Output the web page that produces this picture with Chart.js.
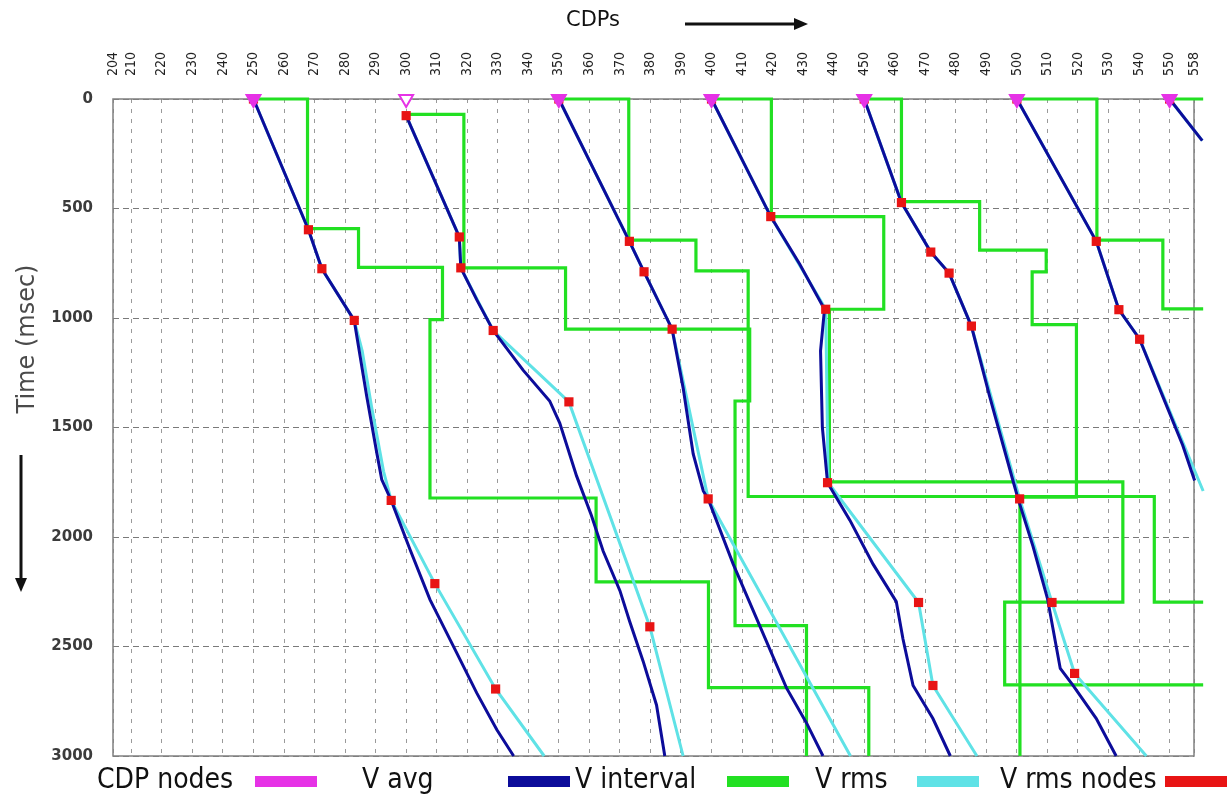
<!DOCTYPE html>
<html>
<head>
<meta charset="utf-8">
<script src="https://cdn.jsdelivr.net/npm/chart.js@4.4.1/dist/chart.umd.min.js"></script>
<style>
  html, body { margin: 0; padding: 0; background: #ffffff; }
  #wrap { width: 1228px; height: 798px; position: relative; }
</style>
</head>
<body>
<div id="wrap"><canvas id="chart" width="1228" height="798"></canvas></div>
<script>
// ---- axis ticks ----
const cdpTicks = [204, 210, 220, 230, 240, 250, 260, 270, 280, 290, 300, 310, 320, 330, 340,
  350, 360, 370, 380, 390, 400, 410, 420, 430, 440, 450, 460, 470, 480, 490, 500, 510, 520,
  530, 540, 550, 558];
const timeTicks = [0, 500, 1000, 1500, 2000, 2500, 3000];

// ---- CDP nodes (velocity analysis locations) ----
const cdpNodes = [250, 300, 350, 400, 450, 500, 550];
const openNodes = [300];

// ---- per-node curves: [CDP position, time (msec)] ----
const vAvg250 = [[250,0],[268,597],[272.4,775],[283,1011],[284.4,1130],[287.1,1358],[290.4,1617],[292,1738],[295.1,1833],[301.3,2058],[307.8,2286],[316.6,2530],[323.1,2712],[329.7,2880],[335.2,3000]];
const vRms250 = [[250,0],[268,597],[272.4,775],[283,1011],[285.6,1150],[288.6,1400],[292.6,1700],[295.1,1833],[309.4,2213],[329.3,2694],[345.2,3000]];
const rmsNodes250 = [[250,0],[268,597],[272.4,775],[283,1011],[295.1,1833],[309.4,2213],[329.3,2694]];
const vInt250 = [[250,0],[267.7,0],[267.7,592],[284.4,592],[284.4,769],[311.9,769],[311.9,1007],[307.8,1007],[307.8,1822],[362.2,1822],[362.2,2205],[399,2205],[399,2688],[451.5,2688],[451.5,3000]];

const vAvg300 = [[300,76],[317.4,630],[317.9,771],[323.1,916],[328.5,1057],[338.3,1238],[347,1379],[350.3,1480],[355.8,1721],[360.7,1903],[364.5,2064],[370,2245],[373.2,2386],[377.6,2567],[382,2768],[384.7,3000]];
const vRms300 = [[300,76],[317.4,630],[317.9,771],[328.5,1057],[353.3,1383],[379.8,2410],[390.7,3000]];
const rmsNodes300 = [[300,76],[317.4,630],[317.9,771],[328.5,1057],[353.3,1383],[379.8,2410]];
const vInt300 = [[300,70],[318.9,70],[318.9,771],[352.2,771],[352.2,1051],[412.5,1051],[412.5,1379],[407.7,1379],[407.7,2405],[431.1,2405],[431.1,3000]];

const vAvg350 = [[350,0],[373.1,650],[377.9,789],[387.1,1051],[390.7,1319],[394,1621],[397.3,1790],[398.9,1826],[407.1,2124],[415.8,2406],[424.5,2688],[431.1,2849],[436.5,3000]];
const vRms350 = [[350,0],[373.1,650],[377.9,789],[387.1,1051],[398.9,1826],[445.5,3000]];
const rmsNodes350 = [[350,0],[373.1,650],[377.9,789],[387.1,1051],[398.9,1826]];
const vInt350 = [[350,0],[372.9,0],[372.9,644],[394.9,644],[394.9,785],[412,785],[412,1815],[545,1815],[545,2297],[561,2297]];

const vAvg400 = [[400,0],[419.4,537],[428.9,755],[437,960],[435.7,1150],[436.3,1500],[438,1752],[445.3,1923],[452.9,2124],[460.5,2295],[462.7,2466],[466,2678],[472.5,2829],[478.2,3000]];
const vRms400 = [[400,0],[419.4,537],[437.4,960],[438.2,1752],[467.8,2299],[472.5,2678],[486.9,3000]];
const rmsNodes400 = [[400,0],[419.4,537],[437.4,960],[438,1752],[467.8,2299],[472.5,2678]];
const vInt400 = [[400,0],[419.6,0],[419.6,537],[456.4,537],[456.4,960],[438.6,960],[438.6,1748],[534.7,1748],[534.7,2297],[496,2297],[496,2675],[561,2675]];

const vAvg450 = [[450,0],[462.2,473],[471.8,699],[477.8,795],[485.1,1037],[491.1,1359],[495.5,1581],[498.7,1742],[500.4,1826],[505.3,2044],[510,2280],[514.2,2600],[518.5,2680],[526,2829],[532.5,3000]];
const vRms450 = [[450,0],[462.2,473],[471.8,699],[477.8,795],[485.1,1037],[500.9,1826],[511.5,2299],[518.9,2623],[542.4,3000]];
const rmsNodes450 = [[450,0],[462.2,473],[471.8,699],[477.8,795],[485.1,1037],[500.9,1826],[511.5,2299],[518.9,2623]];
const vInt450 = [[450,0],[462.2,0],[462.2,469],[487.8,469],[487.8,690],[509.6,690],[509.6,789],[505,789],[505,1030],[519.5,1030],[519.5,1818],[501,1818],[501,3000]];

const vAvg500 = [[500,0],[526,650],[533.4,962],[540.2,1097],[547.8,1359],[554.3,1581],[558.2,1742],[559.6,1850],[560.3,2110]];
const vRms500 = [[500,0],[526,650],[533.4,962],[540.2,1097],[561,1790]];
const rmsNodes500 = [[500,0],[526,650],[533.4,962],[540.2,1097]];
const vInt500 = [[500,0],[526.2,0],[526.2,644],[547.8,644],[547.8,958],[561,958]];

const vAvg550 = [[550,0],[560.7,190]];
const vRms550 = [[550,0],[560.7,190]];
const rmsNodes550 = [[550,0]];
const vInt550 = [[550,0],[561,0]];

// ---- legend texts ----
const legendLabels = ['CDP nodes', 'V avg', 'V interval', 'V rms', 'V rms nodes'];

// ---- styling ----
const COLORS = {
  node: '#e632e6',
  avg: '#0c0c9a',
  interval: '#22e022',
  rms: '#5fe2e6',
  rmsNode: '#e81414'
};
const legendColors = [COLORS.node, COLORS.avg, COLORS.interval, COLORS.rms, COLORS.rmsNode];
const legendTextX = [97, 362, 575, 815, 1000];
const legendSwatchX = [255, 508, 727, 917, 1165];

const toXY = arr => arr.map(([x, y]) => ({ x, y }));

const panels = [
  [vAvg250, vRms250, rmsNodes250, vInt250],
  [vAvg300, vRms300, rmsNodes300, vInt300],
  [vAvg350, vRms350, rmsNodes350, vInt350],
  [vAvg400, vRms400, rmsNodes400, vInt400],
  [vAvg450, vRms450, rmsNodes450, vInt450],
  [vAvg500, vRms500, rmsNodes500, vInt500],
  [vAvg550, vRms550, rmsNodes550, vInt550]
];

const datasets = [];
datasets.push({
  label: 'CDP nodes',
  data: cdpNodes.map(c => ({ x: c, y: 0 })),
  showLine: false,
  pointStyle: 'triangle',
  pointRotation: 180,
  pointRadius: 8,
  pointBorderWidth: 2,
  pointBorderColor: COLORS.node,
  pointBackgroundColor: cdpNodes.map(c => openNodes.includes(c) ? '#ffffff' : COLORS.node),
  order: 0,
  clip: false
});
panels.forEach(([avg, rms, nodes, intv]) => {
  datasets.push({ label: 'V rms nodes', data: toXY(nodes), showLine: false, pointStyle: 'rect',
    pointRadius: 6.5, pointBorderWidth: 0, pointBackgroundColor: COLORS.rmsNode, order: 1, clip: false });
  datasets.push({ label: 'V avg', data: toXY(avg), borderColor: COLORS.avg, borderWidth: 3,
    pointRadius: 0, tension: 0, order: 2, clip: false });
  datasets.push({ label: 'V rms', data: toXY(rms), borderColor: COLORS.rms, borderWidth: 3,
    pointRadius: 0, tension: 0, order: 3, clip: false });
  datasets.push({ label: 'V interval', data: toXY(intv), borderColor: COLORS.interval, borderWidth: 3.2,
    pointRadius: 0, tension: 0, order: 4, clip: false, borderJoinStyle: 'miter' });
});

// frame, rotated CDP tick labels, axis titles, arrows and the legend row
const decorations = {
  id: 'decorations',
  beforeDatasetsDraw(chart) {
    const { ctx, chartArea: a } = chart;
    ctx.save();
    ctx.strokeStyle = '#808080';
    ctx.lineWidth = 1.5;
    ctx.strokeRect(a.left, a.top, a.right - a.left, a.bottom - a.top);
    ctx.restore();
  },
  afterDraw(chart) {
    const { ctx } = chart;
    const xs = chart.scales.x;
    ctx.save();

    // CDP tick labels, read bottom-to-top above the frame
    ctx.fillStyle = '#222';
    ctx.font = '14px "DejaVu Sans Condensed"';
    ctx.textAlign = 'left';
    ctx.textBaseline = 'middle';
    xs.ticks.forEach(t => {
      const px = xs.getPixelForValue(t.value);
      ctx.save();
      ctx.translate(px, 76);
      ctx.rotate(-Math.PI / 2);
      ctx.fillText(String(t.value), 0, 0);
      ctx.restore();
    });

    ctx.fillStyle = '#111';
    ctx.strokeStyle = '#111';

    // top title with arrow
    ctx.font = '21px "DejaVu Sans"';
    ctx.textAlign = 'center';
    ctx.textBaseline = 'middle';
    ctx.fillText('CDPs', 593, 21);
    ctx.lineWidth = 3;
    ctx.beginPath(); ctx.moveTo(685, 24); ctx.lineTo(798, 24); ctx.stroke();
    ctx.beginPath(); ctx.moveTo(808, 24); ctx.lineTo(794, 18); ctx.lineTo(794, 30); ctx.closePath(); ctx.fill();

    // left title with arrow
    ctx.save();
    ctx.translate(28, 339);
    ctx.rotate(-Math.PI / 2);
    ctx.font = '24px "DejaVu Sans"';
    ctx.fillStyle = '#4a4a4a';
    ctx.fillText('Time (msec)', 0, 0);
    ctx.restore();
    ctx.beginPath(); ctx.moveTo(21, 455); ctx.lineTo(21, 580); ctx.stroke();
    ctx.beginPath(); ctx.moveTo(21, 592); ctx.lineTo(15, 578); ctx.lineTo(27, 578); ctx.closePath(); ctx.fill();

    // legend: text followed by a colour bar
    ctx.font = '28px "DejaVu Sans Condensed"';
    ctx.textAlign = 'left';
    ctx.textBaseline = 'middle';
    legendLabels.forEach((lab, i) => {
      ctx.fillStyle = '#111';
      ctx.fillText(lab, legendTextX[i], 781);
      ctx.fillStyle = legendColors[i];
      ctx.fillRect(legendSwatchX[i], 776, 62, 11);
    });
    ctx.restore();
  }
};

new Chart(document.getElementById('chart'), {
  type: 'line',
  data: { datasets },
  plugins: [decorations],
  options: {
    responsive: false,
    animation: false,
    devicePixelRatio: 1,
    layout: { padding: { left: 0, right: 34, top: 0, bottom: 42 } },
    plugins: { legend: { display: false }, tooltip: { enabled: false } },
    scales: {
      x: {
        type: 'linear',
        position: 'top',
        min: 204,
        max: 558,
        afterBuildTicks: scale => { scale.ticks = cdpTicks.map(v => ({ value: v })); },
        afterFit: scale => { scale.height = 99; },
        ticks: { display: false, autoSkip: false },
        grid: { color: '#9a9a9a', lineWidth: 1, drawTicks: false },
        border: { display: false, dash: [4, 6] }
      },
      y: {
        type: 'linear',
        reverse: true,
        min: 0,
        max: 3000,
        afterBuildTicks: scale => { scale.ticks = timeTicks.map(v => ({ value: v })); },
        afterFit: scale => { scale.width = 113; },
        ticks: {
          padding: 20,
          color: '#3b3b3b',
          font: { family: '"DejaVu Sans"', size: 15, weight: 'bold' },
          callback: v => String(v)
        },
        grid: { color: '#7a7a7a', lineWidth: 1, drawTicks: false },
        border: { display: false, dash: [6, 4] }
      }
    }
  }
});
</script>
</body>
</html>
